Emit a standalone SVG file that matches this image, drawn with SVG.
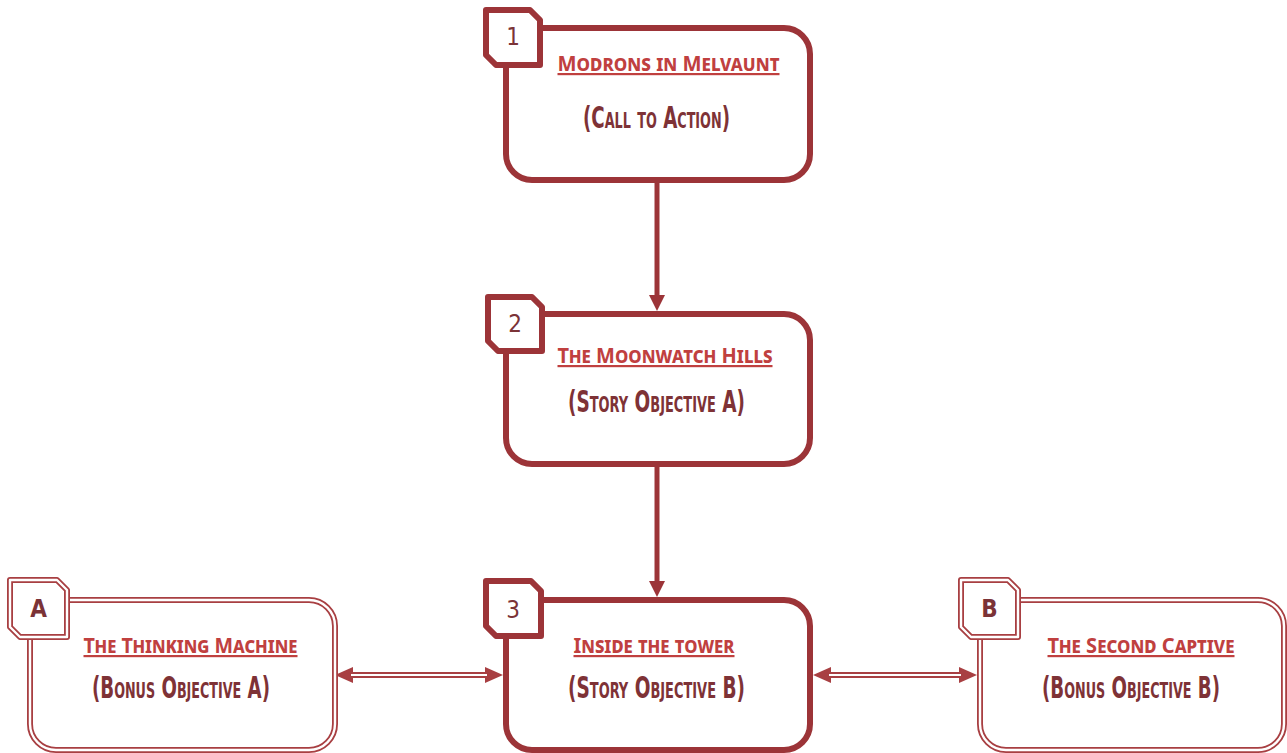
<svg xmlns="http://www.w3.org/2000/svg" width="1287" height="753" viewBox="0 0 1287 753">
<style>
.solid{fill:#fff;stroke:#9c3438;stroke-width:6;stroke-linejoin:round}
.dbl{fill:#fff;stroke:#a83f42;stroke-width:6;stroke-linejoin:round}
.dblin{fill:none;stroke:#fff;stroke-width:2.4;stroke-linejoin:round}
.title{font-family:"Noto Sans","Open Sans",sans-serif;font-weight:700;font-variant:small-caps;font-size:22px;fill:#c0403f;text-anchor:middle;text-decoration:underline}
.sub{font-family:"DejaVu Sans Condensed","DejaVu Sans",sans-serif;font-stretch:condensed;font-weight:700;font-variant:small-caps;font-size:30px;fill:#7e3236;text-anchor:middle}
.num{font-family:"DejaVu Sans Condensed","DejaVu Sans",sans-serif;font-stretch:condensed;font-size:24px;fill:#7b3337;text-anchor:middle}
.numb{font-weight:700}
.line{stroke:#9c3438;stroke-width:5;fill:none}
.hline{stroke:#a83f42;stroke-width:6;fill:none}
.hin{stroke:#fff;stroke-width:2.2;fill:none}
</style>
<defs>
<marker id="ah" viewBox="0 0 16 16" refX="2" refY="8" markerWidth="16" markerHeight="16" markerUnits="userSpaceOnUse" orient="auto-start-reverse">
<path d="M0,0 L16,8 L0,16 Z" fill="#9c3438"/>
</marker>
<marker id="ahh" viewBox="0 0 18 16" refX="2" refY="8" markerWidth="18" markerHeight="16" markerUnits="userSpaceOnUse" orient="auto-start-reverse">
<path d="M0,0 L18,8 L0,16 Z" fill="#a83f42"/>
</marker>
</defs>
<g id="connectors">
<line class="line" x1="657" y1="180" x2="657" y2="297" marker-end="url(#ah)"/>
<line class="line" x1="657" y1="464" x2="657" y2="583" marker-end="url(#ah)"/>
<line class="hline" x1="351" y1="675" x2="487" y2="675" marker-start="url(#ahh)" marker-end="url(#ahh)"/>
<line class="hin" x1="351" y1="675" x2="487" y2="675"/>
<line class="hline" x1="829" y1="675" x2="961" y2="675" marker-start="url(#ahh)" marker-end="url(#ahh)"/>
<line class="hin" x1="829" y1="675" x2="961" y2="675"/>
</g>
<g id="node1">
<rect class="solid" x="506" y="28" width="304" height="152" rx="26"/>
<path class="solid" d="M486,10 H530 L540,20 V65 H496 L486,55 Z"/>
<text class="num" x="513" y="45">1</text>
<text class="title" x="668.5" y="71" textLength="222" lengthAdjust="spacingAndGlyphs">Modrons in Melvaunt</text>
<text class="sub" x="656.5" y="128" textLength="147" lengthAdjust="spacingAndGlyphs">(Call to Action)</text>
</g>
<g id="node2">
<rect class="solid" x="506" y="314" width="304" height="150" rx="26"/>
<path class="solid" d="M488,297 H532 L542,307 V351 H498 L488,341 Z"/>
<text class="num" x="515" y="332">2</text>
<text class="title" x="665" y="363" textLength="215" lengthAdjust="spacingAndGlyphs">The Moonwatch Hills</text>
<text class="sub" x="656.5" y="412" textLength="177" lengthAdjust="spacingAndGlyphs">(Story Objective A)</text>
</g>
<g id="node3">
<rect class="solid" x="506" y="600" width="304" height="150" rx="26"/>
<path class="solid" d="M486,581 H531 L541,591 V636 H496 L486,626 Z"/>
<text class="num" x="513" y="618">3</text>
<text class="title" x="654" y="653" textLength="161" lengthAdjust="spacingAndGlyphs">Inside the tower</text>
<text class="sub" x="656.5" y="698" textLength="177" lengthAdjust="spacingAndGlyphs">(Story Objective B)</text>
</g>
<g id="nodeA">
<rect class="dbl" x="30" y="600" width="305" height="150" rx="26"/>
<rect class="dblin" x="30" y="600" width="305" height="150" rx="26"/>
<path class="dbl" d="M10,580 H57 L67,590 V637 H20 L10,627 Z"/>
<path class="dblin" d="M10,580 H57 L67,590 V637 H20 L10,627 Z"/>
<text class="num numb" x="38.5" y="617">A</text>
<text class="title" x="190.5" y="653" textLength="214" lengthAdjust="spacingAndGlyphs">The Thinking Machine</text>
<text class="sub" x="181" y="698" textLength="178" lengthAdjust="spacingAndGlyphs">(Bonus Objective A)</text>
</g>
<g id="nodeB">
<rect class="dbl" x="980" y="600" width="304" height="150" rx="26"/>
<rect class="dblin" x="980" y="600" width="304" height="150" rx="26"/>
<path class="dbl" d="M961,580 H1008 L1018,590 V637 H971 L961,627 Z"/>
<path class="dblin" d="M961,580 H1008 L1018,590 V637 H971 L961,627 Z"/>
<text class="num numb" x="989.5" y="617">B</text>
<text class="title" x="1141" y="653" textLength="187" lengthAdjust="spacingAndGlyphs">The Second Captive</text>
<text class="sub" x="1131" y="698" textLength="178" lengthAdjust="spacingAndGlyphs">(Bonus Objective B)</text>
</g>
</svg>
